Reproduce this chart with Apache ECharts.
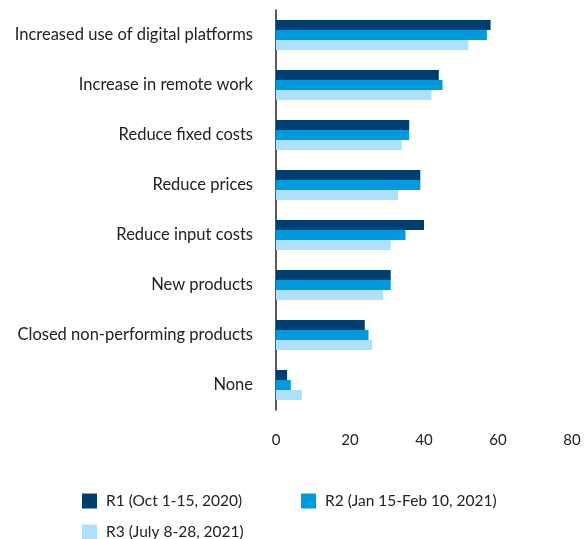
<!DOCTYPE html>
<html>
<head>
<meta charset="utf-8">
<script src="https://cdn.jsdelivr.net/npm/echarts@6/dist/echarts.min.js"></script>
<style>
  html, body { margin: 0; padding: 0; background: #fff; }
  #chart { width: 587px; height: 539px; }
</style>
</head>
<body>
<div id="chart"></div>
<script>
// Business responses, share of respondents (%), by survey round
const categories = [
  'Increased use of digital platforms',
  'Increase in remote work',
  'Reduce fixed costs',
  'Reduce prices',
  'Reduce input costs',
  'New products',
  'Closed non-performing products',
  'None'
];
const seriesNames = ['R1 (Oct 1-15, 2020)', 'R2 (Jan 15-Feb 10, 2021)', 'R3 (July 8-28, 2021)'];
const r1Values = [58, 44, 36, 39, 40, 31, 24, 3];
const r2Values = [57, 45, 36, 39, 35, 31, 25, 4];
const r3Values = [52, 42, 34, 33, 31, 29, 26, 7];
const xTicks = [0, 20, 40, 60, 80];

const colors = ['#003e70', '#009ade', '#ade1fb'];
const fontFamily = 'Lato, "Noto Sans", sans-serif';
const textColor = '#222';

const chart = echarts.init(document.getElementById('chart'), null, { renderer: 'canvas' });

const legendBase = {
  icon: 'rect',
  itemWidth: 15,
  itemHeight: 15,
  padding: 0,
  selectedMode: false,
  textStyle: { fontFamily, fontSize: 15.5, color: textColor, padding: [0, 0, 0, 4] }
};

chart.setOption({
  animation: false,
  backgroundColor: '#fff',
  color: colors,
  grid: { left: 276, right: 15, top: 10, bottom: 129, containLabel: false },
  legend: [
    Object.assign({}, legendBase, { data: [seriesNames[0]], left: 82, top: 493 }),
    Object.assign({}, legendBase, { data: [seriesNames[1]], left: 301, top: 493 }),
    Object.assign({}, legendBase, { data: [seriesNames[2]], left: 82, top: 524 })
  ],
  xAxis: {
    type: 'value',
    min: xTicks[0],
    max: xTicks[xTicks.length - 1],
    interval: 20,
    axisLine: { show: false },
    axisTick: { show: false },
    splitLine: { show: false },
    axisLabel: { fontFamily, fontSize: 15, color: textColor, margin: 23 }
  },
  yAxis: {
    type: 'category',
    data: categories,
    inverse: true,
    axisLine: { show: true, lineStyle: { color: '#222', width: 1.5 } },
    axisTick: { show: false },
    axisLabel: { fontFamily, fontSize: 16.5, color: textColor, margin: 23, padding: [4, 0, 0, 0] }
  },
  series: [
    { name: seriesNames[0], type: 'bar', data: r1Values, barWidth: 10, barGap: '0%' },
    { name: seriesNames[1], type: 'bar', data: r2Values, barWidth: 10, barGap: '0%' },
    { name: seriesNames[2], type: 'bar', data: r3Values, barWidth: 10, barGap: '0%' }
  ]
});
</script>
</body>
</html>
